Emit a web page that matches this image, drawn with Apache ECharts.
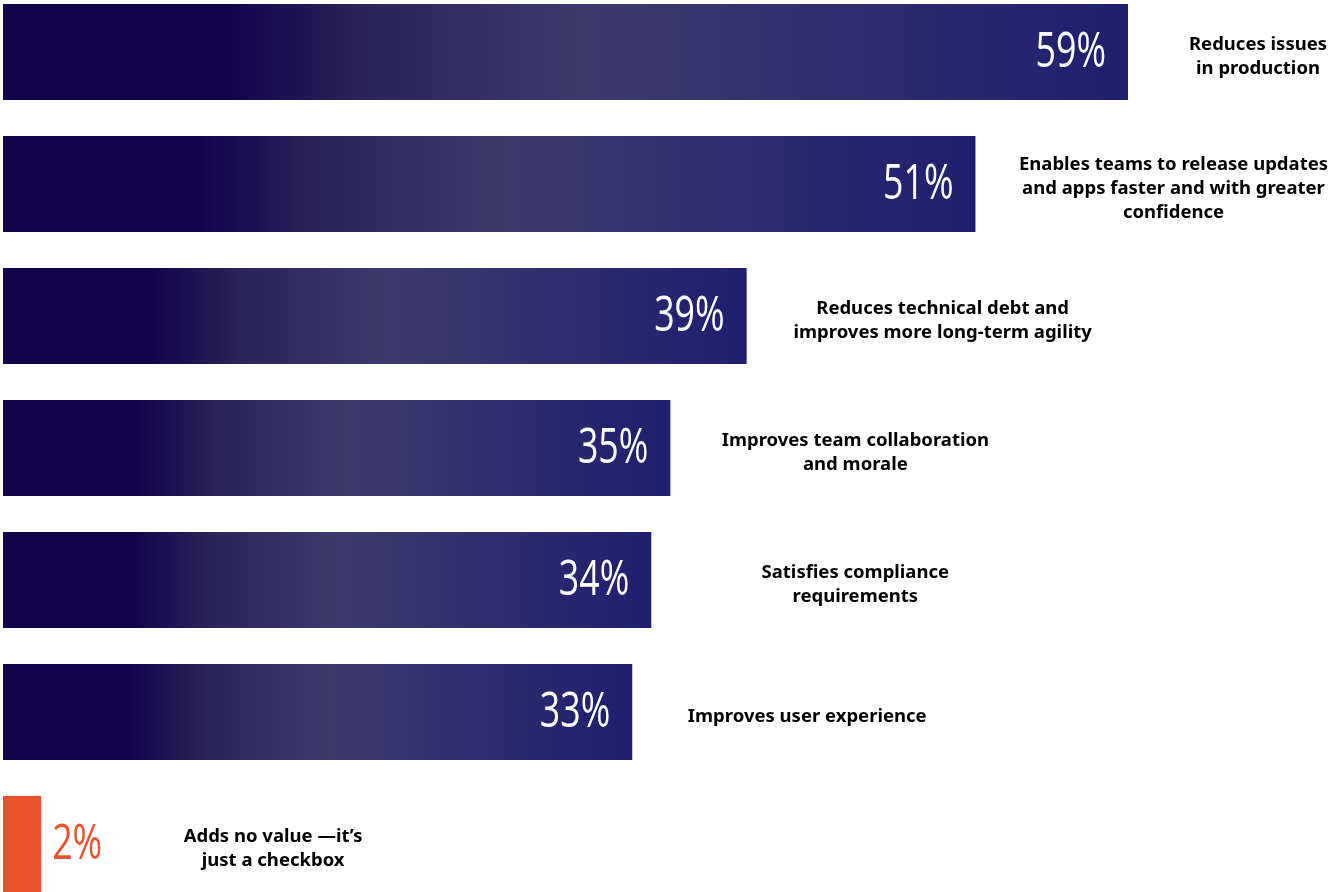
<!DOCTYPE html>
<html>
<head>
<meta charset="utf-8">
<script src="https://cdn.jsdelivr.net/npm/echarts@6/dist/echarts.min.js"></script>
<style>
  html, body { margin: 0; padding: 0; background: #ffffff; }
  #chart { width: 1330px; height: 892px; }
</style>
</head>
<body>
<div id="chart"></div>
<script>
// Survey answers, top to bottom
const categories = [
  'Reduces issues\nin production',
  'Enables teams to release updates\nand apps faster and with greater\nconfidence',
  'Reduces technical debt and\nimproves more long-term agility',
  'Improves team collaboration\nand morale',
  'Satisfies compliance\nrequirements',
  'Improves user experience',
  'Adds no value —it’s\njust a checkbox'
];
const values = [59, 51, 39, 35, 34, 33, 2];
// the last answer is highlighted in orange
const highlighted = [false, false, false, false, false, false, true];

// horizontal distance from each bar's end to the centre of its caption
const captionDistance = [130, 198, 196, 185, 204, 175, 232];

const NAVY_GRADIENT = {
  type: 'linear', x: 0, y: 0, x2: 1, y2: 0,
  colorStops: [
    { offset: 0, color: '#12044a' },
    { offset: 0.2, color: '#12044a' },
    { offset: 0.32, color: '#2a2359' },
    { offset: 0.52, color: '#3e3a6e' },
    { offset: 0.75, color: '#2f2d6c' },
    { offset: 1, color: '#1e1f70' }
  ]
};
const ORANGE = '#e9532b';

const captionFont = '"Noto Sans", "Open Sans", sans-serif';
const valueFont = '"Open Sans", "Noto Sans", sans-serif';

function centredLines(text) {
  return text.split('\n').map(l => '{c|' + l + '}').join('\n');
}

const barData = values.map((v, i) => ({
  value: v,
  itemStyle: { color: highlighted[i] ? ORANGE : NAVY_GRADIENT }
}));

const captionData = values.map((v, i) => ({
  value: v,
  label: { distance: captionDistance[i] }
}));

const chart = echarts.init(document.getElementById('chart'), null, { renderer: 'canvas' });
chart.setOption({
  animation: false,
  backgroundColor: '#ffffff',
  // category ticks sit on the bar centres, 132px apart
  grid: { left: 3, right: 202, top: 52, bottom: 48, containLabel: false },
  xAxis: {
    type: 'value', min: 0, max: 59,
    show: false
  },
  yAxis: {
    type: 'category', data: categories, inverse: true,
    boundaryGap: false,
    show: false
  },
  series: [
    {
      type: 'bar',
      data: barData,
      barWidth: 96,
      clip: false,
      z: 2
    },
    {
      // condensed percentage figures at the end of each bar
      type: 'custom',
      z: 3,
      clip: false,
      data: values.map((v, i) => [v, i]),
      encode: { x: 0, y: 1 },
      renderItem: function (params, api) {
        const i = params.dataIndex;
        const v = api.value(0);
        const end = api.coord([v, i]);
        const hl = highlighted[i];
        return {
          type: 'text',
          x: hl ? end[0] + 11 : end[0] - 22,
          y: end[1] + 1,
          scaleX: 0.73,
          style: {
            text: v + '%',
            fill: hl ? ORANGE : '#ffffff',
            fontFamily: valueFont,
            fontSize: 49,
            fontWeight: 400,
            align: hl ? 'left' : 'right',
            verticalAlign: 'middle'
          }
        };
      }
    },
    {
      // invisible twin series carrying the answer captions
      type: 'bar',
      data: captionData,
      barWidth: 96,
      barGap: '-100%',
      clip: false,
      z: 1,
      itemStyle: { color: 'rgba(0,0,0,0)' },
      silent: true,
      label: {
        show: true,
        position: 'right',
        align: 'center',
        offset: [0, 5],
        formatter: p => centredLines(categories[p.dataIndex]),
        rich: {
          c: {
            align: 'center',
            fontFamily: captionFont,
            fontWeight: 'bold',
            fontSize: 18.5,
            lineHeight: 24,
            color: '#000000'
          }
        }
      }
    }
  ]
});
</script>
</body>
</html>
